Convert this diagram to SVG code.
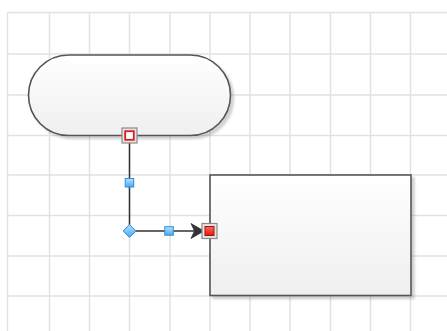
<svg xmlns="http://www.w3.org/2000/svg" width="447" height="331" viewBox="0 0 447 331">
<style>
.grid line{stroke:#e2e2e2;stroke-width:1.5}
.shape{stroke:#555;stroke-width:1.6;fill:url(#gFill)}
.conn{stroke:#333;stroke-width:1.5;fill:none}
.handle{fill:url(#gBlue);stroke:#2a8fd8;stroke-width:1}
.cpOuter{fill:#e6e6e6;stroke:#8a8a8a;stroke-width:1.2}
</style>
<defs>
<linearGradient id="gFill" x1="0" y1="0" x2="0" y2="1">
<stop offset="0" stop-color="#ffffff"/>
<stop offset="1" stop-color="#efefef"/>
</linearGradient>
<linearGradient id="gBlue" x1="0" y1="0" x2="0" y2="1">
<stop offset="0" stop-color="#b8e0ff"/>
<stop offset="1" stop-color="#4aaaf0"/>
</linearGradient>
<linearGradient id="gRed" x1="0" y1="0" x2="0" y2="1">
<stop offset="0" stop-color="#ff6a5a"/>
<stop offset="1" stop-color="#e01818"/>
</linearGradient>
<filter id="sh" x="-10%" y="-10%" width="130%" height="130%">
<feGaussianBlur in="SourceAlpha" stdDeviation="1.2"/>
<feOffset dx="2.5" dy="2.5" result="b"/>
<feComponentTransfer><feFuncA type="linear" slope="0.18"/></feComponentTransfer>
<feMerge><feMergeNode/><feMergeNode in="SourceGraphic"/></feMerge>
</filter>
</defs>
<rect width="447" height="331" fill="#ffffff"/>
<g class="grid">
<line x1="7.5" y1="12.5" x2="7.5" y2="331"/>
<line x1="49.5" y1="12.5" x2="49.5" y2="331"/>
<line x1="89.5" y1="12.5" x2="89.5" y2="331"/>
<line x1="129.5" y1="12.5" x2="129.5" y2="331"/>
<line x1="170" y1="12.5" x2="170" y2="331"/>
<line x1="210" y1="12.5" x2="210" y2="331"/>
<line x1="250" y1="12.5" x2="250" y2="331"/>
<line x1="290" y1="12.5" x2="290" y2="331"/>
<line x1="330.5" y1="12.5" x2="330.5" y2="331"/>
<line x1="370.5" y1="12.5" x2="370.5" y2="331"/>
<line x1="410.5" y1="12.5" x2="410.5" y2="331"/>
<line x1="7.5" y1="12.5" x2="447" y2="12.5"/>
<line x1="7.5" y1="54" x2="447" y2="54"/>
<line x1="7.5" y1="95" x2="447" y2="95"/>
<line x1="7.5" y1="135.5" x2="447" y2="135.5"/>
<line x1="7.5" y1="175" x2="447" y2="175"/>
<line x1="7.5" y1="215.5" x2="447" y2="215.5"/>
<line x1="7.5" y1="256" x2="447" y2="256"/>
<line x1="7.5" y1="296" x2="447" y2="296"/>
</g>
<g id="terminator">
<rect class="shape" x="28.5" y="55" width="202" height="80.5" rx="40.25" ry="40.25" filter="url(#sh)"/>
</g>
<g id="process">
<rect class="shape" x="210" y="175" width="201" height="120.5" filter="url(#sh)"/>
</g>
<g id="connectors">
<path class="conn" d="M129.5,143 L129.5,231 L196,231"/>
<path d="M204,231 L191,223.5 L194.5,231 L191,238.5 Z" fill="#333" stroke="#333" stroke-width="0.8" stroke-linejoin="round"/>
<rect class="handle" x="125.2" y="178.5" width="8.5" height="8.5"/>
<rect class="handle" x="164.8" y="226.7" width="8.5" height="8.5"/>
<path class="handle" d="M129.5,224.6 L135.9,231 L129.5,237.4 L123.1,231 Z"/>
<rect class="cpOuter" x="122" y="128" width="15" height="15"/>
<rect x="125.2" y="131.2" width="8.6" height="8.6" fill="#ffffff" stroke="#d81e1e" stroke-width="1.8"/>
<rect class="cpOuter" x="202" y="223.5" width="15" height="15"/>
<rect x="205" y="226.5" width="9" height="9" fill="url(#gRed)" stroke="#a01010" stroke-width="1"/>
</g>
</svg>
